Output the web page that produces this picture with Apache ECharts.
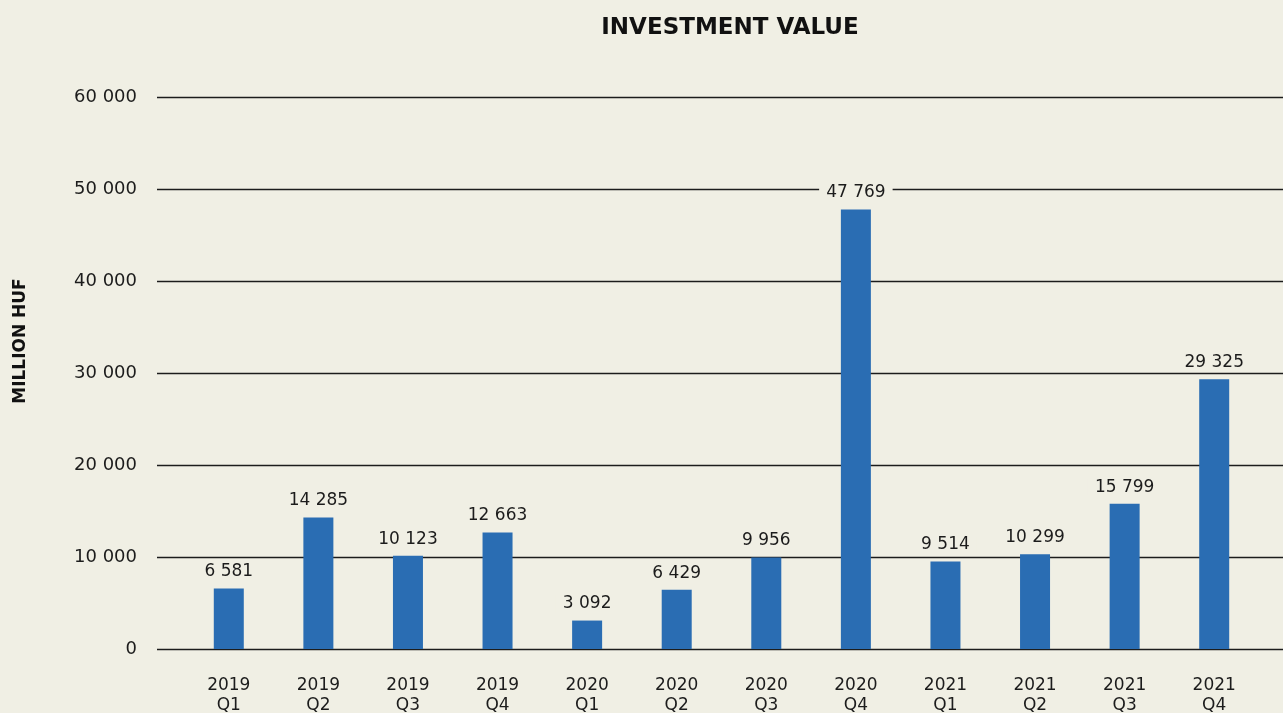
<!DOCTYPE html>
<html>
<head>
<meta charset="utf-8">
<script src="https://cdn.jsdelivr.net/npm/echarts@6/dist/echarts.min.js"></script>
<style>
  html, body { margin: 0; padding: 0; background: #f0efe4; }
  #chart { width: 1283px; height: 713px; }
</style>
</head>
<body>
<div id="chart"></div>
<script>
const categories = ['2019\nQ1', '2019\nQ2', '2019\nQ3', '2019\nQ4', '2020\nQ1', '2020\nQ2', '2020\nQ3', '2020\nQ4', '2021\nQ1', '2021\nQ2', '2021\nQ3', '2021\nQ4'];
const investmentValue = [6581, 14285, 10123, 12663, 3092, 6429, 9956, 47769, 9514, 10299, 15799, 29325];
const yTicks = [0, 10000, 20000, 30000, 40000, 50000, 60000];

const bg = '#f0efe4';
const ink = '#1c1c1c';
const font = '"DejaVu Sans"';

function fmt(v) {
    return String(v).replace(/\B(?=(\d{3})+(?!\d))/g, ' ');
}

let chart = echarts.init(document.getElementById('chart'));
const yMin = yTicks[0];
const yMax = yTicks[yTicks.length - 1];
const yStep = yTicks[1] - yTicks[0];

const option = {
    backgroundColor: bg,
    animation: false,
    title: {
        text: 'INVESTMENT VALUE',
        left: 725,
        textAlign: 'center',
        top: 12,
        textStyle: {fontFamily: font, fontWeight: 'bold', fontSize: 23, color: '#111'}
    },
    graphic: [
        {
            type: 'text',
            x: 21,
            y: 341,
            rotation: Math.PI / 2,
            style: {
                text: 'MILLION HUF',
                font: 'bold 17px "DejaVu Sans"',
                fill: '#111',
                align: 'center',
                verticalAlign: 'middle'
            }
        }
    ],
    grid: [
        {left: 157, right: 0, top: 97, bottom: 64, outerBoundsMode: 'none'},
        {left: 184, right: 24, top: 97, bottom: 64, outerBoundsMode: 'none'}
    ],
    xAxis: [
        {gridIndex: 0, type: 'value', min: 0, max: 1, show: false},
        {
            gridIndex: 1,
            type: 'category',
            data: categories,
            axisLine: {show: false},
            axisTick: {show: false},
            axisLabel: {
                margin: 27,
                fontFamily: font,
                fontSize: 17,
                lineHeight: 20,
                color: ink
            }
        }
    ],
    yAxis: [
        {
            gridIndex: 0,
            type: 'value',
            min: yMin,
            max: yMax,
            interval: yStep,
            axisLine: {show: false},
            axisTick: {show: false},
            splitLine: {lineStyle: {color: ink, width: 1.3}},
            axisLabel: {
                margin: 20,
                fontFamily: font,
                fontSize: 18,
                color: ink,
                formatter: fmt
            }
        },
        {gridIndex: 1, type: 'value', min: yMin, max: yMax, interval: yStep, show: false}
    ],
    series: [
        {
            type: 'bar',
            xAxisIndex: 1,
            yAxisIndex: 1,
            data: investmentValue,
            barWidth: 30,
            itemStyle: {color: '#2a6db3'},
            label: {
                show: true,
                position: 'top',
                distance: 8,
                fontFamily: font,
                fontSize: 17,
                color: ink,
                backgroundColor: bg,
                padding: [0, 7],
                formatter: function (p) { return fmt(p.value); }
            }
        }
    ]
};

chart.setOption(option);

window.addEventListener('resize', function () {
    chart.resize();
});
</script>
</body>
</html>
